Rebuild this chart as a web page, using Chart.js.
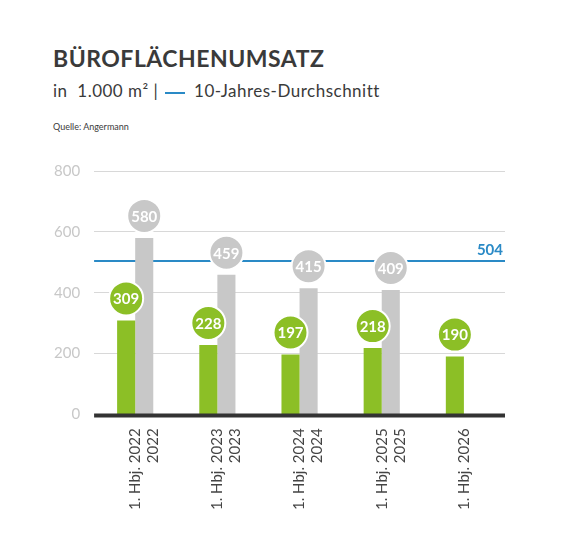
<!DOCTYPE html>
<html><head><meta charset="utf-8">
<script src="https://cdn.jsdelivr.net/npm/chart.js@4"></script>
<style>
body{margin:0;width:582px;height:553px;background:#fff;font-family:Lato,sans-serif;position:relative;overflow:hidden}
#t{position:absolute;left:53px;top:44px;font-size:23px;font-weight:bold;color:#3a3a3a;letter-spacing:0.5px}
#s{position:absolute;left:53px;top:80px;font-size:17px;color:#3a3a3a;letter-spacing:0.5px}
#q{position:absolute;left:53px;top:121px;font-size:9px;color:#3a3a3a}
#s span{display:inline-block;width:20px;height:2px;background:#2a8ac6;vertical-align:middle;margin:0 4px 0 2px}
#c{position:absolute;left:0;top:0}
</style></head><body>
<div id="t">BÜROFLÄCHENUMSATZ</div>
<div id="s">in&nbsp; 1.000 m² | <span></span> 10-Jahres-Durchschnitt</div>
<div id="q">Quelle: Angermann</div>
<canvas id="c" width="582" height="553"></canvas>
<script>
const categories=[["1. Hbj. 2022","2022"],["1. Hbj. 2023","2023"],["1. Hbj. 2024","2024"],["1. Hbj. 2025","2025"],["1. Hbj. 2026"]];
const halfYear=[309,228,197,218,190];
const fullYear=[580,459,415,409,null];
const average=504;
const yTicks=[0,200,400,600,800];

const bubbles={id:'bubbles',afterDatasetsDraw(ch){
  const ctx=ch.ctx;
  ch.data.datasets.forEach((ds,i)=>{
    const meta=ch.getDatasetMeta(i);
    meta.data.forEach((el,j)=>{
      const v=ds.data[j]; if(v==null)return;
      const x=el.x,y=el.y-22;
      ctx.beginPath();ctx.arc(x,y,17,0,Math.PI*2);
      ctx.fillStyle=ds.backgroundColor;ctx.fill();
      ctx.lineWidth=2;ctx.strokeStyle='#fff';ctx.stroke();
      ctx.fillStyle='#fff';ctx.font='bold 15px Lato';ctx.textAlign='center';ctx.textBaseline='middle';
      ctx.fillText(v,x,y+1);
    });
  });
}};
const avgLine={id:'avg',beforeDatasetsDraw(ch){
  const {ctx,chartArea:a,scales:{y}}=ch;const yy=y.getPixelForValue(average);
  ctx.save();ctx.strokeStyle='#2a8ac6';ctx.lineWidth=2;ctx.beginPath();ctx.moveTo(a.left,yy);ctx.lineTo(a.right,yy);ctx.stroke();
  ctx.fillStyle='#2a8ac6';ctx.font='bold 15px Lato';ctx.textAlign='right';ctx.textBaseline='bottom';
  ctx.fillText(String(average),a.right-2,yy-3);ctx.restore();
},afterDraw(ch){
  const {ctx,chartArea:a}=ch;ctx.save();ctx.strokeStyle='#333';ctx.lineWidth=4;ctx.beginPath();ctx.moveTo(a.left,a.bottom+1);ctx.lineTo(a.right,a.bottom+1);ctx.stroke();ctx.restore();
}};
new Chart(document.getElementById('c'),{
  type:'bar',
  data:{labels:categories,datasets:[
    {data:halfYear,backgroundColor:'#8cbf26',categoryPercentage:0.44,barPercentage:1},
    {data:fullYear,backgroundColor:'#c8c8c8',categoryPercentage:0.44,barPercentage:1}
  ]},
  options:{responsive:false,animation:false,
    layout:{padding:{top:171,left:40,right:77,bottom:37}},
    plugins:{legend:{display:false},tooltip:{enabled:false}},
    scales:{
      x:{grid:{display:false},border:{display:false},ticks:{color:'#444',font:{family:'Lato',size:15},minRotation:90,maxRotation:90,padding:6}},
      y:{min:0,max:800,afterBuildTicks:s=>{s.ticks=yTicks.map(v=>({value:v}))},
        grid:{color:'#d8d8d8',drawTicks:false},border:{display:false},
        ticks:{color:'#c8c8c8',font:{family:'Lato',size:15},padding:14}}
    }},
  plugins:[bubbles,avgLine]
});
</script></body></html>
